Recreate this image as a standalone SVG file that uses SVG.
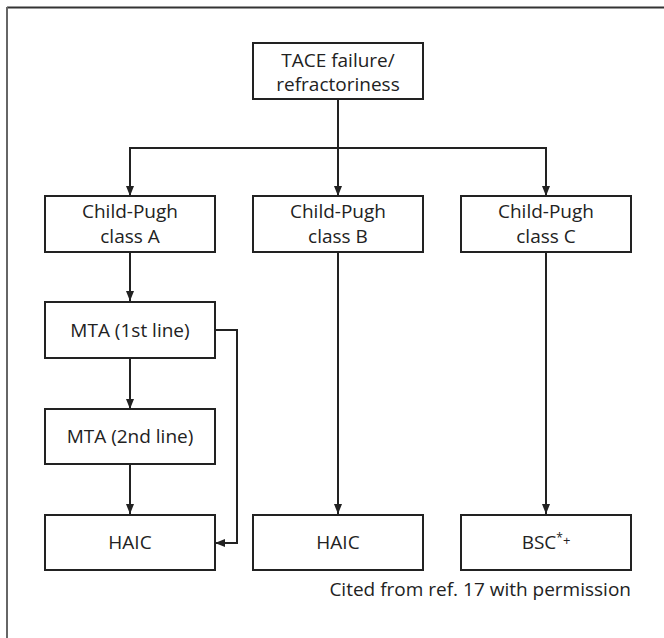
<svg xmlns="http://www.w3.org/2000/svg" width="664" height="638" viewBox="0 0 664 638">
<defs>
<style>
.box{fill:#fff;stroke:#222;stroke-width:2}
.t{font-family:"Open Sans","Noto Sans","Liberation Sans",sans-serif;font-size:19px;fill:#222;text-anchor:middle}
.c{stroke:#222;stroke-width:2;fill:none}
</style>
<marker id="ah" viewBox="0 0 10 10" refX="10" refY="5" markerWidth="10" markerHeight="10" markerUnits="userSpaceOnUse" orient="auto">
<path d="M0,1 L10,5 L0,9 z" fill="#222"/>
</marker>
</defs>
<rect width="664" height="638" fill="#fff"/>
<line x1="7" y1="7.5" x2="664" y2="7.5" stroke="#333" stroke-width="2"/>
<line x1="7" y1="7" x2="7" y2="638" stroke="#666" stroke-width="2"/>
<g id="connectors">
<line class="c" x1="338" y1="99" x2="338" y2="196" marker-end="url(#ah)"/>
<polyline class="c" points="130,196 130,148 546,148 546,196" marker-start="none"/>
<line class="c" x1="130" y1="148" x2="130" y2="196" marker-end="url(#ah)"/>
<line class="c" x1="546" y1="148" x2="546" y2="196" marker-end="url(#ah)"/>
<line class="c" x1="130" y1="252" x2="130" y2="301" marker-end="url(#ah)"/>
<line class="c" x1="130" y1="358" x2="130" y2="409" marker-end="url(#ah)"/>
<line class="c" x1="130" y1="464" x2="130" y2="514" marker-end="url(#ah)"/>
<polyline class="c" points="215,330 237,330 237,543 215,543" marker-end="url(#ah)"/>
<line class="c" x1="338" y1="252" x2="338" y2="514" marker-end="url(#ah)"/>
<line class="c" x1="546" y1="252" x2="546" y2="514" marker-end="url(#ah)"/>
</g>
<g id="tace">
<rect class="box" x="253" y="43" width="170" height="56"/>
<text class="t" x="338" y="67">TACE failure/</text>
<text class="t" x="338" y="91">refractoriness</text>
</g>
<g id="cpA">
<rect class="box" x="45" y="196" width="170" height="56"/>
<text class="t" x="130" y="218">Child-Pugh</text>
<text class="t" x="130" y="243">class A</text>
</g>
<g id="cpB">
<rect class="box" x="253" y="196" width="170" height="56"/>
<text class="t" x="338" y="218">Child-Pugh</text>
<text class="t" x="338" y="243">class B</text>
</g>
<g id="cpC">
<rect class="box" x="461" y="196" width="170" height="56"/>
<text class="t" x="546" y="218">Child-Pugh</text>
<text class="t" x="546" y="243">class C</text>
</g>
<g id="mta1">
<rect class="box" x="45" y="302" width="170" height="56"/>
<text class="t" x="130" y="337">MTA (1st line)</text>
</g>
<g id="mta2">
<rect class="box" x="45" y="409" width="170" height="55"/>
<text class="t" x="130" y="443">MTA (2nd line)</text>
</g>
<g id="haicA">
<rect class="box" x="45" y="515" width="170" height="55"/>
<text class="t" x="130" y="549">HAIC</text>
</g>
<g id="haicB">
<rect class="box" x="253" y="515" width="170" height="55"/>
<text class="t" x="338" y="549">HAIC</text>
</g>
<g id="bsc">
<rect class="box" x="461" y="515" width="170" height="55"/>
<text class="t" x="546" y="549">BSC<tspan font-size="12" dy="-7">*</tspan><tspan font-size="13" dy="3">+</tspan></text>
</g>
<text class="t" x="631" y="596" style="text-anchor:end">Cited from ref. 17 with permission</text>
</svg>
